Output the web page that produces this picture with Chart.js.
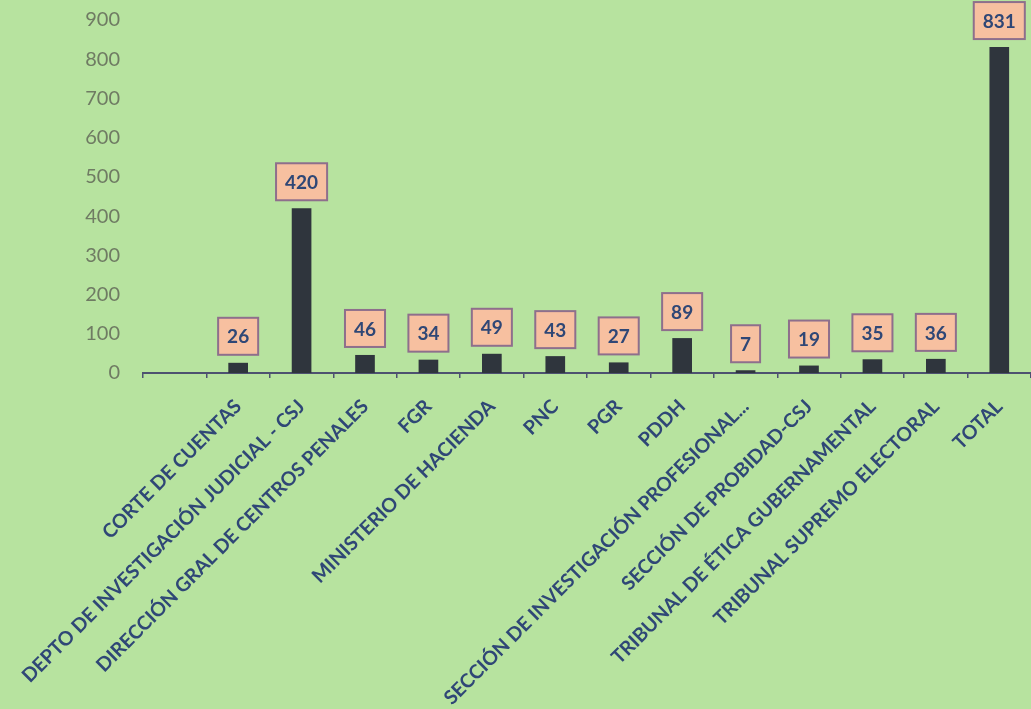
<!DOCTYPE html>
<html>
<head>
<meta charset="utf-8">
<script src="https://cdn.jsdelivr.net/npm/chart.js@4.4.1/dist/chart.umd.min.js"></script>
<style>
  html, body { margin: 0; padding: 0; background: #b7e39f; overflow: hidden; }
  #wrap { position: relative; width: 1031px; height: 709px; }
</style>
</head>
<body>
<div id="wrap"><canvas id="chart"></canvas></div>
<script>
// ===== Data =====
const categories = [
  "",
  "CORTE DE CUENTAS",
  "DEPTO DE INVESTIGACIÓN JUDICIAL - CSJ",
  "DIRECCIÓN GRAL DE CENTROS PENALES",
  "FGR",
  "MINISTERIO DE HACIENDA",
  "PNC",
  "PGR",
  "PDDH",
  "SECCIÓN DE INVESTIGACIÓN PROFESIONAL...",
  "SECCIÓN DE PROBIDAD-CSJ",
  "TRIBUNAL DE ÉTICA GUBERNAMENTAL",
  "TRIBUNAL SUPREMO ELECTORAL",
  "TOTAL"
];
const counts = [null, 26, 420, 46, 34, 49, 43, 27, 89, 7, 19, 35, 36, 831];
const yTicks = [0, 100, 200, 300, 400, 500, 600, 700, 800, 900];

// ===== Colours =====
const BAR = "#2f353d";
const AXIS = "#4d5270";
const LABEL_TXT = "#2f4776";
const BOX_FILL = "#f7c0a0";
const BOX_LINE = "#8e6f8c";

// boxed value labels above each bar
const valueBoxes = {
  id: "valueBoxes",
  afterDatasetsDraw(chart) {
    const { ctx } = chart;
    const meta = chart.getDatasetMeta(0);
    ctx.save();
    ctx.font = "bold 19px Lato, 'Open Sans', sans-serif";
    ctx.textAlign = "center";
    ctx.textBaseline = "middle";
    meta.data.forEach((bar, i) => {
      const v = counts[i];
      if (v === null || v === undefined) return;
      const txt = String(v);
      const w = ctx.measureText(txt).width + 18;
      const h = 37;
      const x = bar.x - w / 2;
      const y = bar.y - 8 - h;
      ctx.fillStyle = BOX_FILL;
      ctx.fillRect(x, y, w, h);
      ctx.lineWidth = 2;
      ctx.strokeStyle = BOX_LINE;
      ctx.strokeRect(x, y, w, h);
      ctx.fillStyle = LABEL_TXT;
      ctx.fillText(txt, bar.x, y + h / 2 + 1);
    });
    ctx.restore();
  }
};

new Chart(document.getElementById("chart"), {
  type: "bar",
  data: {
    labels: categories,
    datasets: [{
      data: counts,
      backgroundColor: BAR,
      barPercentage: 0.31,
      categoryPercentage: 1
    }]
  },
  options: {
    responsive: true,
    maintainAspectRatio: false,
    animation: false,
    layout: { padding: { top: 20, right: 0, left: 0, bottom: 0 } },
    plugins: {
      legend: { display: false },
      tooltip: { enabled: false }
    },
    scales: {
      x: {
        offset: true,
        border: { display: true, color: AXIS, width: 2 },
        grid: {
          offset: true,
          drawOnChartArea: false,
          drawTicks: true,
          tickLength: 5,
          color: AXIS,
          lineWidth: 1.5
        },
        ticks: {
          autoSkip: false,
          maxRotation: 45,
          minRotation: 45,
          padding: 17,
          color: LABEL_TXT,
          font: { family: "Lato, 'Open Sans', sans-serif", size: 19.5, weight: "bold" }
        },
        afterFit: (s) => {
          s.height = 709 - 373;
          s.paddingLeft = 0;
          s.paddingRight = 0;
        }
      },
      y: {
        min: 0,
        max: 900,
        border: { display: false },
        grid: { display: false },
        afterBuildTicks: (s) => { s.ticks = yTicks.map(v => ({ value: v })); },
        ticks: {
          padding: 15,
          color: "#6f7b63",
          font: { family: "Lato, 'Open Sans', sans-serif", size: 20 }
        },
        afterFit: (s) => {
          s.width = 143;
          s.paddingTop = 0;
          s.paddingBottom = 0;
        }
      }
    }
  },
  plugins: [valueBoxes]
});
</script>
</body>
</html>
